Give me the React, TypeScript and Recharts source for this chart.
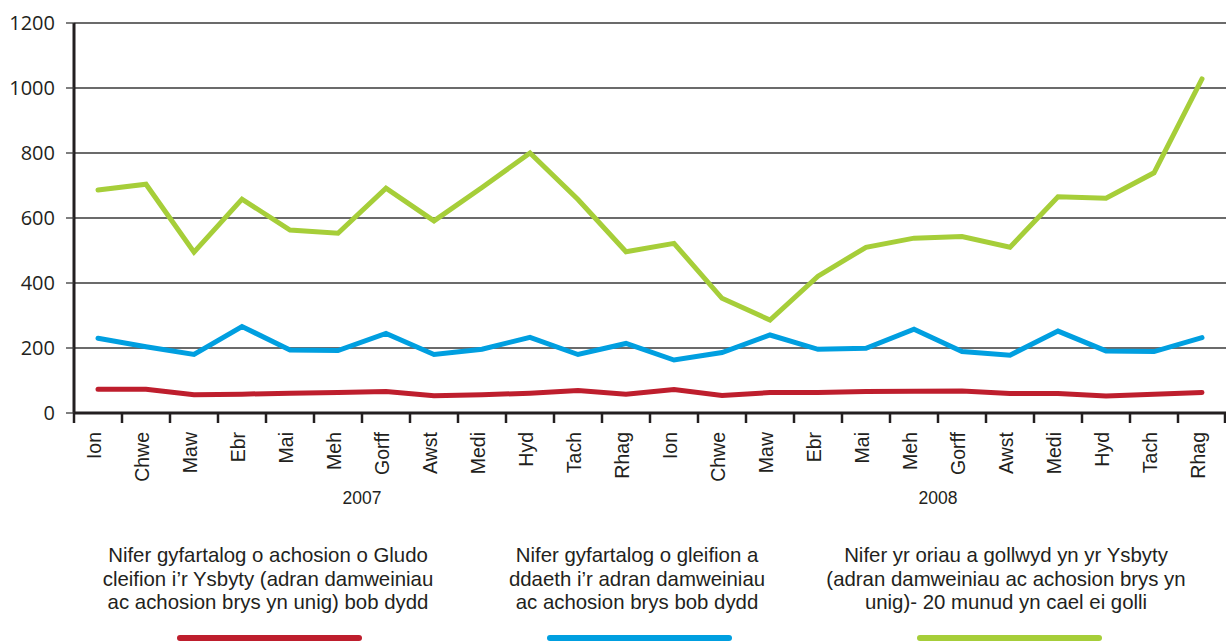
import * as React from 'react'
import { CartesianGrid, Legend, Line, LineChart, XAxis, YAxis } from 'recharts'

// Monthly A&E figures, 2007–2008 (Welsh labels kept as in the source chart).
const YEARS = ['2007', '2008']
const MONTHS = ['Ion', 'Chwe', 'Maw', 'Ebr', 'Mai', 'Meh', 'Gorff', 'Awst', 'Medi', 'Hyd', 'Tach', 'Rhag']
const Y_TICKS = [0, 200, 400, 600, 800, 1000, 1200]

// average transfers to hospital per day
const TRANSFERS = [73, 73, 56, 58, 61, 63, 66, 53, 56, 61, 69, 58, 72, 54, 63, 63, 66, 67, 68, 60, 60, 52, 58, 63]
// average attendances per day
const ATTENDANCES = [230, 204, 180, 266, 194, 192, 245, 180, 196, 233, 180, 214, 163, 186, 240, 196, 199, 258, 189, 178, 252, 191, 189, 232]
// hours lost (20 min handover)
const HOURS_LOST = [686, 704, 495, 658, 563, 553, 692, 591, 694, 800, 657, 496, 522, 353, 286, 421, 510, 538, 543, 510, 665, 661, 739, 1028]

const SERIES_LABELS = [
  ['Nifer gyfartalog o achosion o Gludo', 'cleifion i’r Ysbyty (adran damweiniau', 'ac achosion brys yn unig) bob dydd'],
  ['Nifer gyfartalog o gleifion a', 'ddaeth i’r adran damweiniau', 'ac achosion brys bob dydd'],
  ['Nifer yr oriau a gollwyd yn yr Ysbyty', '(adran damweiniau ac achosion brys yn', 'unig)- 20 munud yn cael ei golli'],
]
const SERIES_KEYS = ['transfers', 'attendances', 'hoursLost']
const COLORS = ['#be1e2d', '#009fe0', '#a6ce39']

const data = YEARS.flatMap((year, yi) =>
  MONTHS.map((month, mi) => {
    const i = yi * MONTHS.length + mi
    return {
      key: `${year}-${month}`,
      transfers: TRANSFERS[i],
      attendances: ATTENDANCES[i],
      hoursLost: HOURS_LOST[i],
    }
  }),
)

const WIDTH = 1226
const HEIGHT = 642
const AXIS_W = 74
const TOP = 23
const X_AXIS_H = 100
const BOTTOM_MARGIN = 229 - X_AXIS_H
const BAND = (WIDTH - AXIS_W) / data.length
const INK = '#231f20'
const SANS = '"Liberation Sans", Arial, Helvetica, sans-serif'

function MonthTick(props: any) {
  const { x, y, payload, index } = props
  const [year, month] = String(payload.value).split('-')
  const half = BAND / 2
  const bx = x + 2.5
  const ty = y + 19
  return (
    <g>
      <line x1={x - half} x2={x - half} y1={y} y2={y + 10} stroke={INK} strokeWidth={2.5} />
      {index === data.length - 1 && (
        <line x1={x + half - 1} x2={x + half - 1} y1={y} y2={y + 10} stroke={INK} strokeWidth={2.5} />
      )}
      <text
        x={bx}
        y={ty}
        transform={`rotate(-90, ${bx}, ${ty})`}
        textAnchor="end"
        fontFamily={SANS}
        fontSize={19.5}
        fill={INK}
      >
        {month}
      </text>
      {index % MONTHS.length === MONTHS.length / 2 && (
        <text x={x - half} y={y + 91} textAnchor="middle" fontFamily={SANS} fontSize={17.5} fill={INK}>
          {year}
        </text>
      )}
    </g>
  )
}

const TEXT_CENTERS = [268, 637, 1006]
const SWATCH_CENTERS = [269.5, 639.5, 1009.5]

function LegendBlock() {
  return (
    <div style={{ position: 'relative', width: WIDTH, height: HEIGHT, fontFamily: SANS }}>
      {SERIES_LABELS.map((lines, i) => (
        <React.Fragment key={SERIES_KEYS[i]}>
          <div
            style={{
              position: 'absolute',
              left: TEXT_CENTERS[i] - 200,
              width: 400,
              top: 544,
              textAlign: 'center',
              fontSize: 20.4,
              lineHeight: '23.5px',
              color: INK,
              whiteSpace: 'nowrap',
            }}
          >
            {lines.map((l) => (
              <div key={l}>{l}</div>
            ))}
          </div>
          <div
            style={{
              position: 'absolute',
              left: SWATCH_CENTERS[i] - 92.5,
              width: 185,
              top: 634.5,
              height: 6,
              borderRadius: 3,
              background: COLORS[i],
            }}
          />
        </React.Fragment>
      ))}
    </div>
  )
}

export default function App() {
  return (
    <div style={{ width: WIDTH, height: HEIGHT, background: '#fff' }}>
      <style>{'body{margin:0}'}</style>
      <LineChart
        width={WIDTH}
        height={HEIGHT}
        data={data}
        margin={{ top: TOP, right: 0, bottom: BOTTOM_MARGIN, left: 0 }}
      >
        <CartesianGrid vertical={false} stroke="#3a3a3a" strokeWidth={1.3} />
        <XAxis
          dataKey="key"
          height={X_AXIS_H}
          interval={0}
          padding={{ left: BAND / 2, right: BAND / 2 }}
          tickLine={false}
          tickSize={0}
          tickMargin={0}
          axisLine={{ stroke: INK, strokeWidth: 3 }}
          tick={<MonthTick />}
        />
        <YAxis
          width={AXIS_W}
          domain={[0, 1200]}
          ticks={Y_TICKS}
          interval={0}
          tickSize={8}
          tickMargin={11}
          axisLine={{ stroke: INK, strokeWidth: 3 }}
          tickLine={{ stroke: '#3a3a3a', strokeWidth: 1.3 }}
          tick={{ fontFamily: '"Open Sans", sans-serif', fontSize: 20, fill: INK }}
        />
        <Legend
          layout="horizontal"
          verticalAlign="middle"
          align="center"
          wrapperStyle={{ top: 0, left: 0, width: WIDTH, height: HEIGHT, pointerEvents: 'none' }}
          content={() => <LegendBlock />}
        />
        {SERIES_KEYS.map((k, i) => (
          <Line
            key={k}
            dataKey={k}
            name={SERIES_LABELS[i].join(' ')}
            stroke={COLORS[i]}
            strokeWidth={5}
            strokeLinecap="round"
            dot={false}
            activeDot={false}
            isAnimationActive={false}
          />
        ))}
      </LineChart>
    </div>
  )
}
